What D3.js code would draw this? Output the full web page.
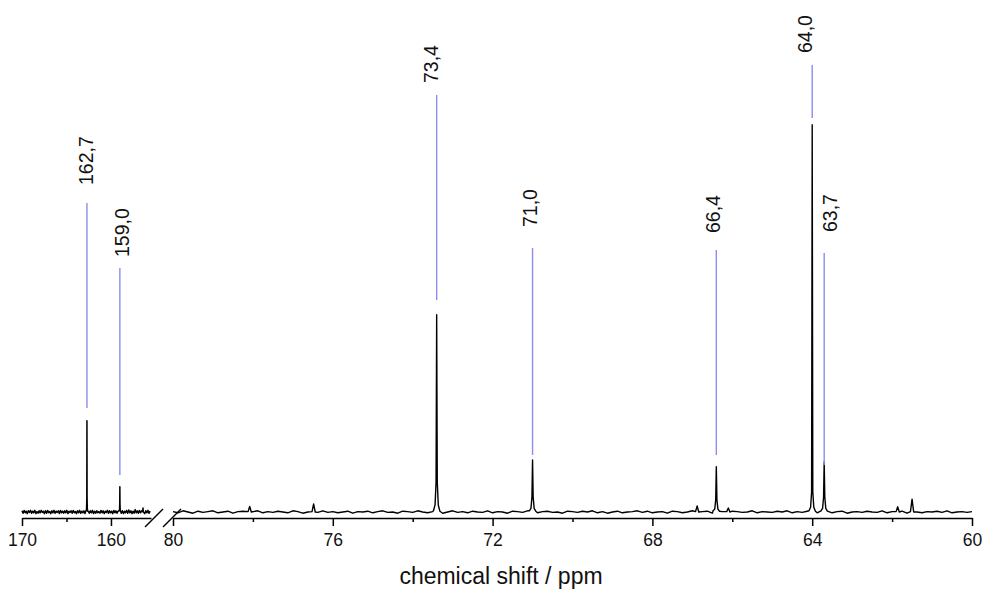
<!DOCTYPE html>
<html>
<head>
<meta charset="utf-8">
<script src="https://cdn.jsdelivr.net/npm/d3@7"></script>
<style>
  html, body { margin: 0; padding: 0; background: #fff; }
  svg { display: block; }
  text { font-family: "Liberation Sans", Arial, sans-serif; fill: #111; }
</style>
</head>
<body>
<svg id="chart" width="983" height="592"></svg>
<script>
// ---------------- data ----------------
const peakPpm    = [162.7, 159.0, 73.4, 71.0, 66.4, 64.0, 63.7];
const peakHeight = [22.8, 6.3, 49.3, 13.0, 11.3, 96.8, 12.5];
const peakFoot   = [1.5, 0.8, 3.0, 1.5, 1.2, 2.0, 1.5];
const peakLabels = ["162,7", "159,0", "73,4", "71,0", "66,4", "64,0", "63,7"];
const labelPpm   = [162.0, 158.0, 73.36, 70.9, 66.3, 64.0, 63.38];
const labelTextBase = [81.75, 63.75, 107.25, 71.25, 69.75, 114.75, 70.0];
const labelLineTop  = [77.25, 61.0, 104.25, 66.0, 65.5, 111.75, 64.75];
const labelLineBot  = [26.0, 9.25, 53.0, 14.25, 14.25, 98.5, 11.75];

const minorPpm    = [156.4, 78.08, 76.48, 66.88, 66.1, 61.86, 61.5];
const minorHeight = [1.0, 1.4, 2.0, 1.5, 1.0, 1.3, 3.2];

const leftTicksMajor  = [170, 160];
const leftTicksMinor  = [165];
const rightTicksMajor = [80, 76, 72, 68, 64, 60];
const rightTicksMinor = [78, 74, 70, 66, 62];
const xTitle = "chemical shift / ppm";

const noiseLeft = [
  0.3,-0.3,0.4,-0.2,0.2,-0.4,0.3,-0.1,0.4,-0.3,
  0.2,-0.2,0.4,-0.4,0.1,-0.3,0.3,-0.2,0.4,-0.1,
  0.2,-0.4,0.3,-0.3,0.4,-0.2,0.1,-0.4,0.3,-0.2,
  0.4,-0.3,0.2,-0.1,0.3,-0.4,0.4,-0.2,0.2,-0.3,
  0.3,-0.2,0.4,-0.4,0.2,-0.1,0.3,-0.3,0.4,-0.2,
  0.1,-0.4,0.3,-0.2,0.4,-0.3,0.2,-0.2,0.3,-0.4,
  0.4,-0.1,0.2,-0.3,0.3,-0.2,0.4,-0.4,0.2,-0.3,
  0.3,-0.2,0.1,-0.3,0.4,-0.2,0.3,-0.4,0.2,-0.1,
  0.4,-0.3,0.3,-0.2,0.2,-0.4,0.4,-0.2,0.3,-0.3,
  0.2,-0.1,0.4,-0.3,0.3,-0.4,0.2,-0.2,0.4,-0.3,
  0.5,-0.2,0.3,-0.4,0.2,-0.3,0.6,-0.2,0.3,-0.3,
  0.4,-0.2,0.3,-0.3,0.2,-0.4,0.3,-0.2,0.4,-0.3,
  0.2
];
const noiseRight = [
  0.1,-0.2,0.3,0.0,-0.3,0.2,-0.1,0.1,0.3,-0.2,
  0.0,0.2,-0.3,0.1,0.2,-0.1,0.0,0.3,-0.2,0.1,
  -0.1,0.2,0.0,-0.2,0.3,0.1,-0.3,0.0,0.2,-0.1,
  0.3,-0.1,0.1,-0.2,0.0,0.2,-0.3,0.1,0.0,0.2,
  -0.2,0.1,0.3,-0.1,0.0,-0.3,0.2,0.1,-0.1,0.3,
  0.0,-0.2,0.1,0.2,-0.3,0.0,0.3,-0.1,0.1,-0.2,
  0.2,0.0,-0.1,0.3,-0.2,0.1,0.0,-0.3,0.2,0.1,
  -0.1,0.3,0.0,-0.2,0.1,0.2,-0.1,0.0,-0.3,0.2,
  0.1,-0.1,0.2,0.0,0.3,-0.2,0.1,-0.3,0.0,0.2,
  -0.2,0.0,0.1,0.3,-0.1,0.2,-0.2,0.0,0.1,-0.3,
  0.2,0.1,-0.2,0.0,0.3,-0.1,0.1,0.2,-0.3,0.0,
  0.1,-0.3,0.2,0.1,-0.1,0.0,0.3,-0.2,0.1,0.0,
  -0.1,0.2,0.0,0.3,-0.2,0.1,-0.1,0.2,0.0,-0.2,
  0.3,0.0,-0.2,0.1,0.2,-0.3,0.0,0.1,-0.1,0.2,
  0.0,-0.1,0.3,-0.2,0.1,0.0,0.2,-0.3,0.1,0.0,
  -0.2,0.1,0.0,0.2,-0.1,0.3,-0.2,0.0,0.1,-0.1,
  0.1
];

// ---------------- scales ----------------
const svg = d3.select("#chart");
const xl = d3.scaleLinear().domain([170, 155.5]).range([22, 151]);
const xr = d3.scaleLinear().domain([80, 60]).range([173, 972]);
const y  = d3.scaleLinear().domain([0, 100]).range([512, 112]);
const axisY = 518;
const xOf = p => (p > 100 ? xl(p) : xr(p));

// ---------------- build traces ----------------
function buildTrace(domain, noise, step) {
  const [hi, lo] = domain;
  const inRange = p => p <= hi && p >= lo;
  const allPk = peakPpm.concat(minorPpm);
  const pts = [];
  noise.forEach((n, i) => {
    const p = hi - i * step;
    if (p < lo - 1e-9) return;
    if (allPk.some(q => Math.abs(q - p) < 0.09)) return;
    pts.push([p, n]);
  });
  peakPpm.forEach((p, i) => {
    if (!inRange(p)) return;
    const h = peakHeight[i], f = peakFoot[i];
    pts.push([p + 0.08, 0.3], [p + 0.04, f * 0.6], [p + 0.015, f * 2.5],
             [p, h],
             [p - 0.015, f * 2.5], [p - 0.04, f * 0.6], [p - 0.08, 0.2]);
  });
  minorPpm.forEach((p, i) => {
    if (!inRange(p)) return;
    pts.push([p + 0.04, 0.1], [p, minorHeight[i]], [p - 0.04, 0.0]);
  });
  pts.sort((a, b) => b[0] - a[0]);
  return pts;
}

const leftPts  = buildTrace(xl.domain(), noiseLeft, 0.12);
const rightPts = buildTrace(xr.domain(), noiseRight, 0.125);

const lineL = d3.line().x(d => xl(d[0])).y(d => y(d[1]));
const lineR = d3.line().x(d => xr(d[0])).y(d => y(d[1]));

svg.append("path").attr("d", lineL(leftPts))
  .attr("fill", "none").attr("stroke", "#000").attr("stroke-width", 1.5)
  .attr("stroke-linejoin", "round");
svg.append("path").attr("d", lineR(rightPts))
  .attr("fill", "none").attr("stroke", "#000").attr("stroke-width", 1.4)
  .attr("stroke-linejoin", "round");

// ---------------- axes ----------------
function drawAxis(scale, major, minor) {
  const gMaj = svg.append("g").attr("transform", `translate(0,${axisY})`)
    .call(d3.axisBottom(scale).tickValues(major).tickSize(8).tickSizeOuter(0).tickPadding(8)
      .tickFormat(d3.format("d")));
  gMaj.select(".domain").attr("stroke", "#000").attr("stroke-width", 1.5);
  gMaj.selectAll(".tick line").attr("stroke", "#000").attr("stroke-width", 1.5);
  gMaj.selectAll(".tick text")
    .style("font-family", '"Liberation Sans", Arial, sans-serif')
    .style("font-size", "17.5px").attr("fill", "#111");
  const gMin = svg.append("g").attr("transform", `translate(0,${axisY})`)
    .call(d3.axisBottom(scale).tickValues(minor).tickSize(4).tickSizeOuter(0).tickFormat(""));
  gMin.select(".domain").remove();
  gMin.selectAll(".tick line").attr("stroke", "#000").attr("stroke-width", 1.5);
}
drawAxis(xl, leftTicksMajor, leftTicksMinor);
drawAxis(xr, rightTicksMajor, rightTicksMinor);

// axis break marks
const breakCenters = [xl.range()[1] + 3, xr.range()[0] - 1];
breakCenters.forEach(cx => {
  svg.append("line")
    .attr("x1", cx - 9).attr("y1", axisY + 9)
    .attr("x2", cx + 9).attr("y2", axisY - 9)
    .attr("stroke", "#000").attr("stroke-width", 1.5);
});

// ---------------- peak labels ----------------
const lblG = svg.append("g");
peakPpm.forEach((p, i) => {
  const lx = xOf(p);
  lblG.append("line")
    .attr("x1", lx).attr("x2", lx)
    .attr("y1", y(labelLineTop[i])).attr("y2", y(labelLineBot[i]))
    .attr("stroke", "#8a8cf0").attr("stroke-width", 1.4);
  lblG.append("text")
    .attr("transform", `translate(${xOf(labelPpm[i])},${y(labelTextBase[i])}) rotate(-90)`)
    .attr("text-anchor", "start")
    .style("font-size", "19.5px")
    .text(peakLabels[i]);
});

// ---------------- axis title ----------------
svg.append("text")
  .attr("x", 501)
  .attr("y", 584)
  .attr("text-anchor", "middle")
  .style("font-size", "23px")
  .text(xTitle);
</script>
</body>
</html>
